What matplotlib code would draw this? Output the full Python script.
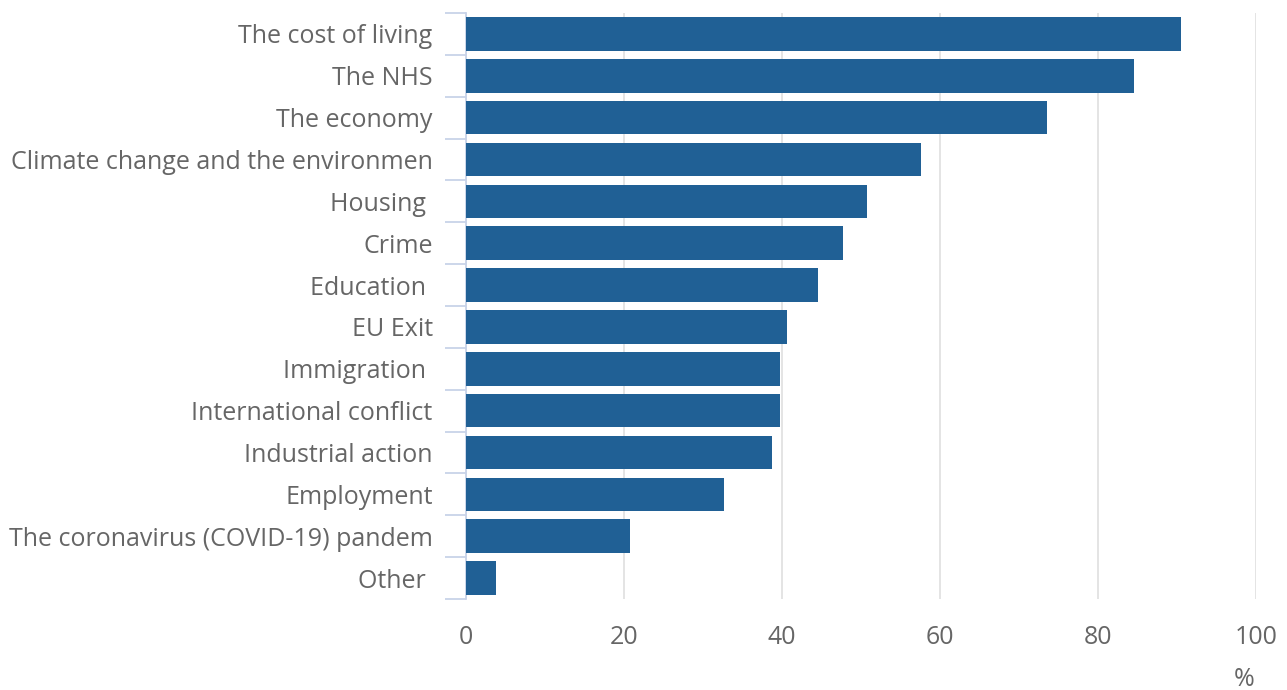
import matplotlib.pyplot as plt
import numpy as np

# Concerns, top to bottom (labels are cut off in the original chart)
categories = ["The cost of living", "The NHS", "The economy",
              "Climate change and the environmen", "Housing ", "Crime",
              "Education ", "EU Exit", "Immigration ", "International conflict",
              "Industrial action", "Employment",
              "The coronavirus (COVID-19) pandem", "Other "]
values = [90.5, 84.6, 73.6, 57.6, 50.8, 47.7, 44.6, 40.6, 39.8, 39.8, 38.7, 32.6, 20.7, 3.8]
x_ticks = [0, 20, 40, 60, 80, 100]

plt.rcParams['font.family'] = ['Open Sans', 'DejaVu Sans']
text_color = '#666666'

fig = plt.figure(figsize=(12.87, 6.9), dpi=100)
ax = fig.add_axes([466 / 1287, 1 - 599 / 690, (1256 - 466) / 1287, (599 - 13) / 690])

y = np.arange(len(categories))
ax.barh(y, values, height=0.8, color='#206095', zorder=3)

ax.set_ylim(len(categories) - 0.5, -0.5)
ax.set_xlim(0, 100)
ax.set_xticks(x_ticks)
ax.set_xticklabels([str(t) for t in x_ticks])
ax.grid(axis='x', color='#e2e2e2', linewidth=1.3, zorder=0)

ax.set_yticks(y)
ax.set_yticklabels(categories)
ax.set_yticks(np.arange(len(categories) + 1) - 0.5, minor=True)
ax.tick_params(axis='y', which='major', length=0, pad=24, labelsize=18, labelcolor=text_color)
ax.tick_params(axis='y', which='minor', length=15, width=1.3, color='#c8d3e8')
ax.tick_params(axis='x', length=0, pad=19, labelsize=18, labelcolor=text_color)

for side in ['top', 'right', 'bottom']:
    ax.spines[side].set_visible(False)
ax.spines['left'].set_color('#c8d3e8')
ax.spines['left'].set_linewidth(1.3)

fig.text(1244 / 1287, 1 - 680 / 690, '%', ha='center', va='center', fontsize=18, color=text_color)

fig.savefig('out.png', dpi=100)
